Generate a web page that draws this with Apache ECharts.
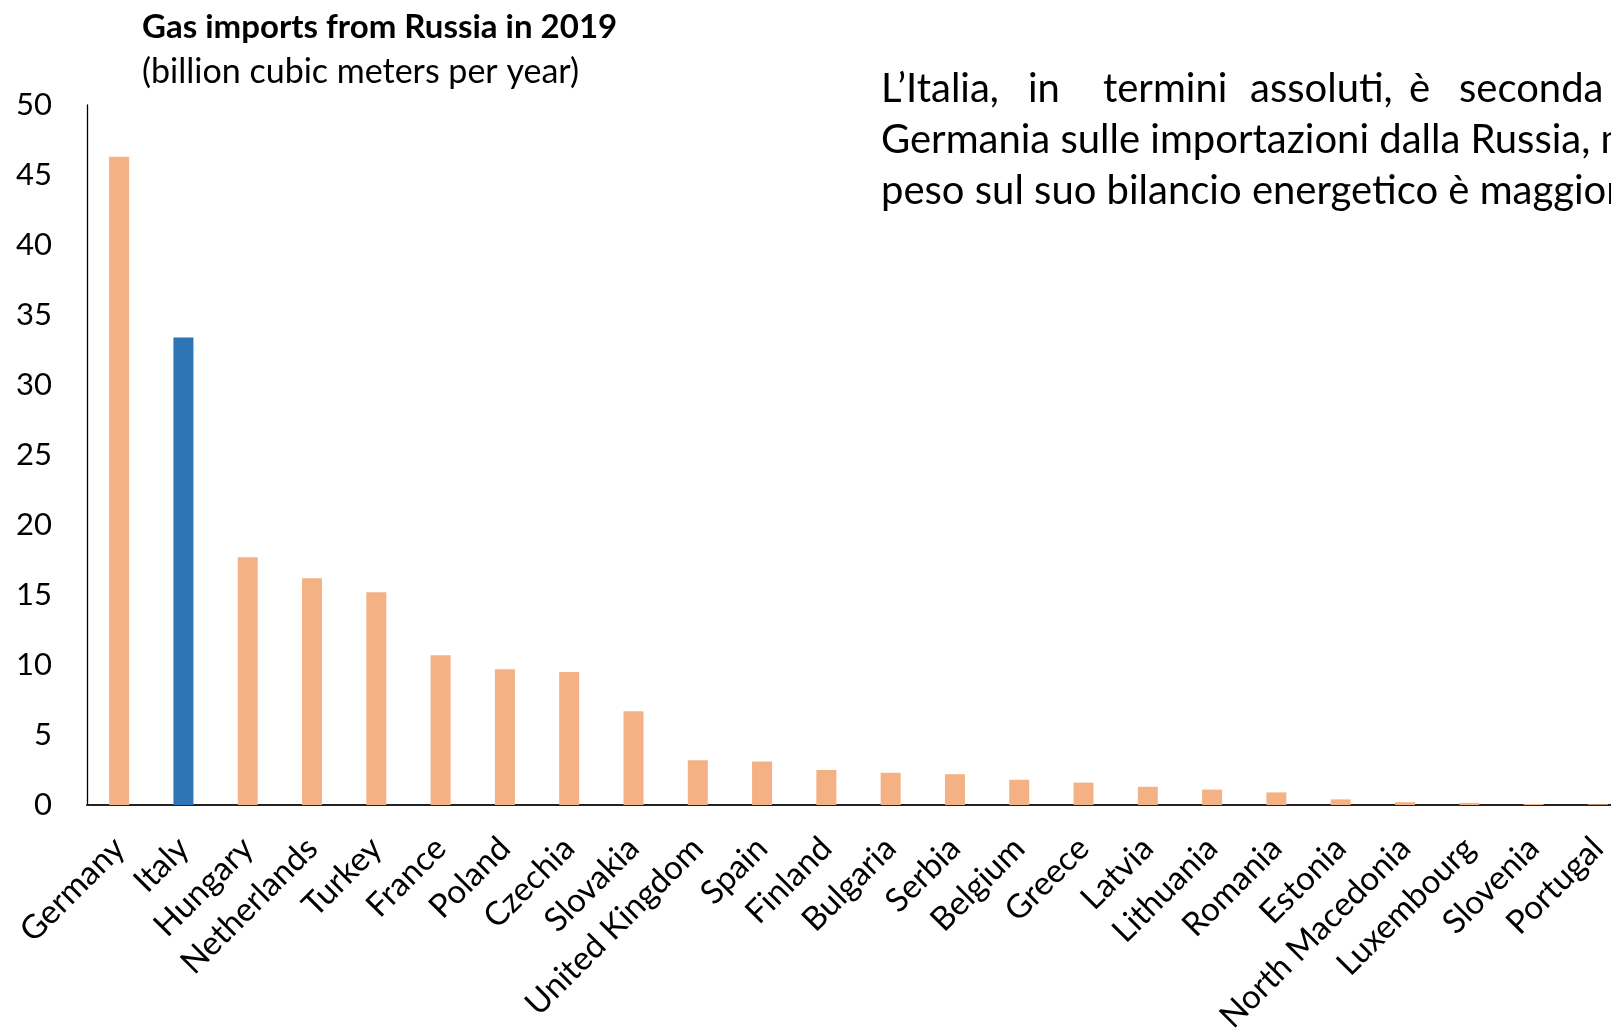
<!DOCTYPE html>
<html>
<head>
<meta charset="utf-8">
<script src="https://cdn.jsdelivr.net/npm/echarts@6/dist/echarts.min.js"></script>
<style>
  html, body { margin: 0; padding: 0; background: #ffffff; }
  #chart { width: 1611px; height: 1035px; }
</style>
</head>
<body>
<div id="chart"></div>
<script>
// Gas imports from Russia in 2019, billion cubic meters per year
const countries = ['Germany', 'Italy', 'Hungary', 'Netherlands', 'Turkey', 'France', 'Poland',
  'Czechia', 'Slovakia', 'United Kingdom', 'Spain', 'Finland', 'Bulgaria', 'Serbia', 'Belgium',
  'Greece', 'Latvia', 'Lithuania', 'Romania', 'Estonia', 'North Macedonia', 'Luxembourg',
  'Slovenia', 'Portugal'];
const imports = [46.3, 33.4, 17.7, 16.2, 15.2, 10.7, 9.7, 9.5, 6.7, 3.2, 3.1, 2.5, 2.3, 2.2,
  1.8, 1.6, 1.3, 1.1, 0.9, 0.4, 0.2, 0.15, 0.07, 0.05];
const highlighted = 'Italy';
const yTicks = { min: 0, max: 50, step: 5 };

const titleText = 'Gas imports from Russia in 2019';
const subtitleText = '(billion cubic meters per year)';
// Side note: first line is justified word by word, the rest flows normally
const noteFirstLine = ['L\u2019Italia,', 'in', 'termini', 'assoluti,', '\u00e8', 'seconda'];
const noteLines = [
  'Germania sulle importazioni dalla Russia, ma',
  'peso sul suo bilancio energetico \u00e8 maggiore'
];

const FONT = 'Lato, "Open Sans", sans-serif';
const ORANGE = '#F4B183';
const BLUE = '#2E75B6';

const chart = echarts.init(document.getElementById('chart'), null, { renderer: 'canvas' });

const wordX = [881, 1028, 1103, 1250, 1409, 1459];
const graphics = [
  { type: 'text', x: 142, y: 27, style: { text: titleText, font: 'bold 33px ' + FONT, fill: '#000', verticalAlign: 'middle' } },
  { type: 'text', x: 142, y: 72, style: { text: subtitleText, font: '34px ' + FONT, fill: '#000', verticalAlign: 'middle' } }
];
noteFirstLine.forEach((w, i) => {
  graphics.push({ type: 'text', x: wordX[i], y: 89, style: { text: w, font: '40px ' + FONT, fill: '#000', verticalAlign: 'middle' } });
});
noteLines.forEach((line, i) => {
  graphics.push({ type: 'text', x: 881, y: 140 + i * 51, style: { text: line, font: '40px ' + FONT, fill: '#000', verticalAlign: 'middle' } });
});

chart.setOption({
  animation: false,
  backgroundColor: '#ffffff',
  textStyle: { fontFamily: FONT },
  // The plot runs past the right edge of the canvas; keep the grid exactly where it is set
  grid: { left: 87, top: 105, width: 1543, height: 700, containLabel: false, outerBoundsMode: 'none' },
  xAxis: {
    type: 'category',
    data: countries,
    axisLine: { show: true, lineStyle: { color: '#222222', width: 2 } },
    axisTick: { show: false },
    axisLabel: { interval: 0, rotate: 45, fontSize: 33, color: '#000', margin: 38, fontFamily: FONT }
  },
  yAxis: {
    type: 'value',
    min: yTicks.min,
    max: yTicks.max,
    interval: yTicks.step,
    axisLine: { show: true, lineStyle: { color: '#000000', width: 1.3 } },
    axisTick: { show: false },
    splitLine: { show: false },
    axisLabel: { fontSize: 31, color: '#000', margin: 35, fontFamily: FONT }
  },
  series: [{
    type: 'bar',
    barWidth: 20,
    data: imports.map((v, i) => ({
      value: v,
      itemStyle: { color: countries[i] === highlighted ? BLUE : ORANGE }
    }))
  }],
  graphic: graphics
});
</script>
</body>
</html>
